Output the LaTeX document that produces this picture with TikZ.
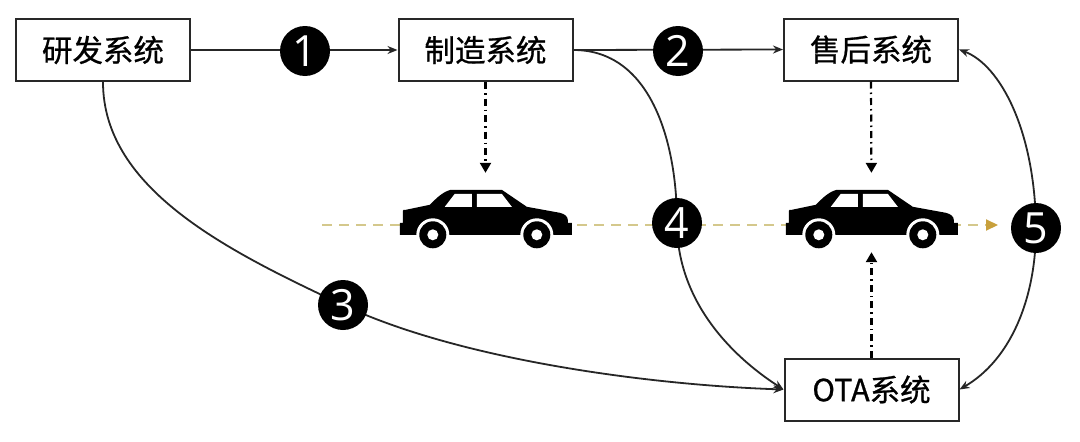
\documentclass[tikz,border=0pt]{standalone}
\usepackage{fontspec}
\newfontfamily\cjk[FakeBold=0.8]{Noto Sans CJK SC}
\newfontfamily\numfont{Open Sans}
\usetikzlibrary{arrows.meta}
\definecolor{roadcol}{RGB}{212,200,140}
\definecolor{goldtip}{RGB}{200,160,60}
\definecolor{boxline}{RGB}{40,40,40}
\tikzset{
  sysbox/.style={draw=boxline,line width=2pt,minimum width=174pt,minimum height=62pt,inner sep=0pt,
    font=\cjk\fontsize{30.5}{30.5}\selectfont},
  numcirc/.style={circle,fill=black,minimum size=50pt,inner sep=0pt,text=white,
    font=\numfont\fontsize{43}{43}\selectfont},
  conn/.style={draw=black!85,line width=1.8pt},
  tipa/.style={-{Stealth[length=10pt,width=8pt]}},
  dashdot/.style={draw=black,line width=2.2pt,dash pattern=on 7pt off 4pt on 1.5pt off 4pt,
    -{Triangle[length=10pt,width=11pt]}},
  carspace/.style={minimum width=173pt,minimum height=58pt,inner sep=0pt},
  car/.pic={
    \fill[black] (4,22) .. controls (4,21) and (5,21) .. (7,21) -- (31,16)
      .. controls (38,9) and (44,3) .. (52,1) -- (103,1)
      -- (128,18) -- (161,24) .. controls (166,25) and (169,28) .. (169,31) -- (169,34) -- (173,34)
      -- (173,46) -- (1,46) -- (1,34) -- (4,34) -- cycle;
    \fill[white] (46,18) -- (56,5) -- (73,5) -- (73,18) -- cycle;
    \fill[white] (78,5) -- (103,5) -- (113,18) -- (78,18) -- cycle;
    \foreach \wx in {34,138}{
      \fill[white] (\wx,46) circle (16.5);
      \fill[black] (\wx,46) circle (13.5);
      \fill[white] (\wx,46) circle (5.5);
    }
  }
}
\begin{document}
\begin{tikzpicture}[x=1pt,y=-1pt]
\useasboundingbox (0,0) rectangle (1080,442);
\fill[white] (0,0) rectangle (1080,442);

% boxes
\node[sysbox] (yf) at (103,50) {研发系统};
\node[sysbox] (zz) at (485.5,50) {制造系统};
\node[sysbox] (sh) at (871,49.5) {售后系统};
\node[sysbox] (ota) at (871.5,389.5) {OTA系统};

% car placeholders
\node[carspace] (car1) at (485.5,218) {};
\node[carspace] (car2) at (871.5,218) {};

% road line
\coordinate (roadL) at (322,225);
\coordinate (roadR) at (998,225);
\draw[draw=roadcol,line width=2pt,dash pattern=on 10pt off 7pt,
  -{Triangle[length=12pt,width=11pt,color=goldtip]}] (roadL) -- (roadR);

% number circles (positions)
\coordinate (p1) at (305,51);
\coordinate (p2) at (678,51);
\coordinate (p3) at (343,305);
\coordinate (p4) at (677,223);
\coordinate (p5) at (1036,228);

% connectors
\draw[conn,tipa] (yf.east) -- (zz.west);
\draw[conn,tipa] (zz.east) -- (sh.west);
\draw[conn,tipa] (yf.south) .. controls (103,190) and (230,252) .. (p3)
  .. controls (460,360) and (650,385) .. (ota.west);
\draw[conn,tipa] (zz.east) .. controls (650,50) and (677,140) .. (p4)
  .. controls (677,300) and (730,355) .. (ota.west);
\draw[conn,{Stealth[length=10pt,width=8pt]}-{Stealth[length=10pt,width=8pt]}]
  (sh.east) .. controls (1000,65) and (1035,130) .. (p5)
  .. controls (1036,300) and (1010,360) .. (ota.east);

% dash-dot arrows
\draw[dashdot,shorten >=16pt] (zz.south) -- (car1.north);
\draw[dashdot,shorten >=16pt] (sh.south) -- (car2.north);
\draw[dashdot,shorten >=5pt] (ota.north) -- (car2.south);

% cars
\pic at (car1.north west) {car};
\pic at (car2.north west) {car};

% circles
\node[numcirc] (n1) at (p1) {1};
\node[numcirc] (n2) at (p2) {2};
\node[numcirc] (n3) at (p3) {3};
\node[numcirc] (n4) at (p4) {4};
\node[numcirc] (n5) at (p5) {5};
\end{tikzpicture}
\end{document}
